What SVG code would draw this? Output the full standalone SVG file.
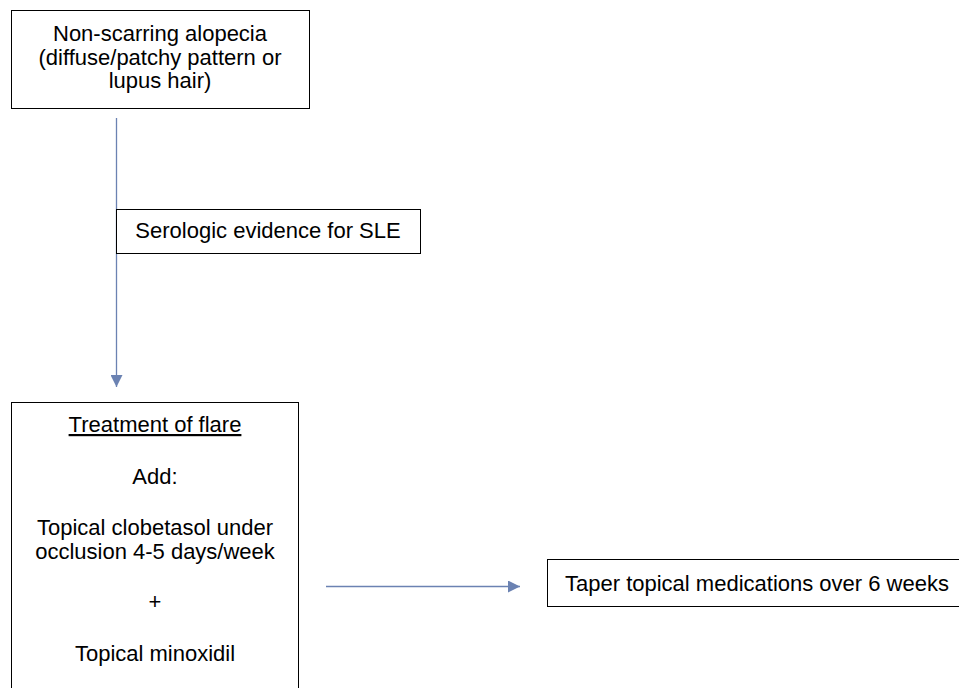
<svg xmlns="http://www.w3.org/2000/svg" width="959" height="688" viewBox="0 0 959 688">
<style>
.box{fill:#fff;stroke:#000;stroke-width:1}
.t{font-family:"Liberation Sans",Arial,sans-serif;font-size:22px;fill:#000;text-anchor:middle}
.c{stroke:#6b82b2;stroke-width:1.3;fill:none}
</style>
<defs>
<marker id="ah" markerWidth="12" markerHeight="12" viewBox="0 0 12 12" refX="12" refY="6" orient="auto" markerUnits="userSpaceOnUse">
<path d="M0,0 L12,6 L0,12 Z" fill="#6b82b2"/>
</marker>
</defs>
<rect width="959" height="688" fill="#fff"/>
<g id="connectors">
<line class="c" x1="116.5" y1="118" x2="116.5" y2="387" marker-end="url(#ah)"/>
<line class="c" x1="326" y1="586.5" x2="520" y2="586.5" marker-end="url(#ah)"/>
</g>
<g id="n1">
<rect class="box" x="11.5" y="10.5" width="298" height="98"/>
<text class="t" x="160" y="41">Non-scarring alopecia</text>
<text class="t" x="160" y="65">(diffuse/patchy pattern or</text>
<text class="t" x="160" y="88">lupus hair)</text>
</g>
<g id="n2">
<rect class="box" x="116.5" y="209.5" width="304" height="44"/>
<text class="t" x="268" y="238">Serologic evidence for SLE</text>
</g>
<g id="n3">
<rect class="box" x="11.5" y="402.5" width="287" height="300"/>
<text class="t" x="155" y="432" text-decoration="underline">Treatment of flare</text>
<text class="t" x="155" y="484">Add:</text>
<text class="t" x="155" y="535">Topical clobetasol under</text>
<text class="t" x="155" y="559">occlusion 4-5 days/week</text>
<text class="t" x="155" y="609">+</text>
<text class="t" x="155" y="661">Topical minoxidil</text>
</g>
<g id="n4">
<rect class="box" x="547.5" y="559.5" width="430" height="47"/>
<text class="t" x="565" y="591" style="text-anchor:start">Taper topical medications over 6 weeks</text>
</g>
</svg>
